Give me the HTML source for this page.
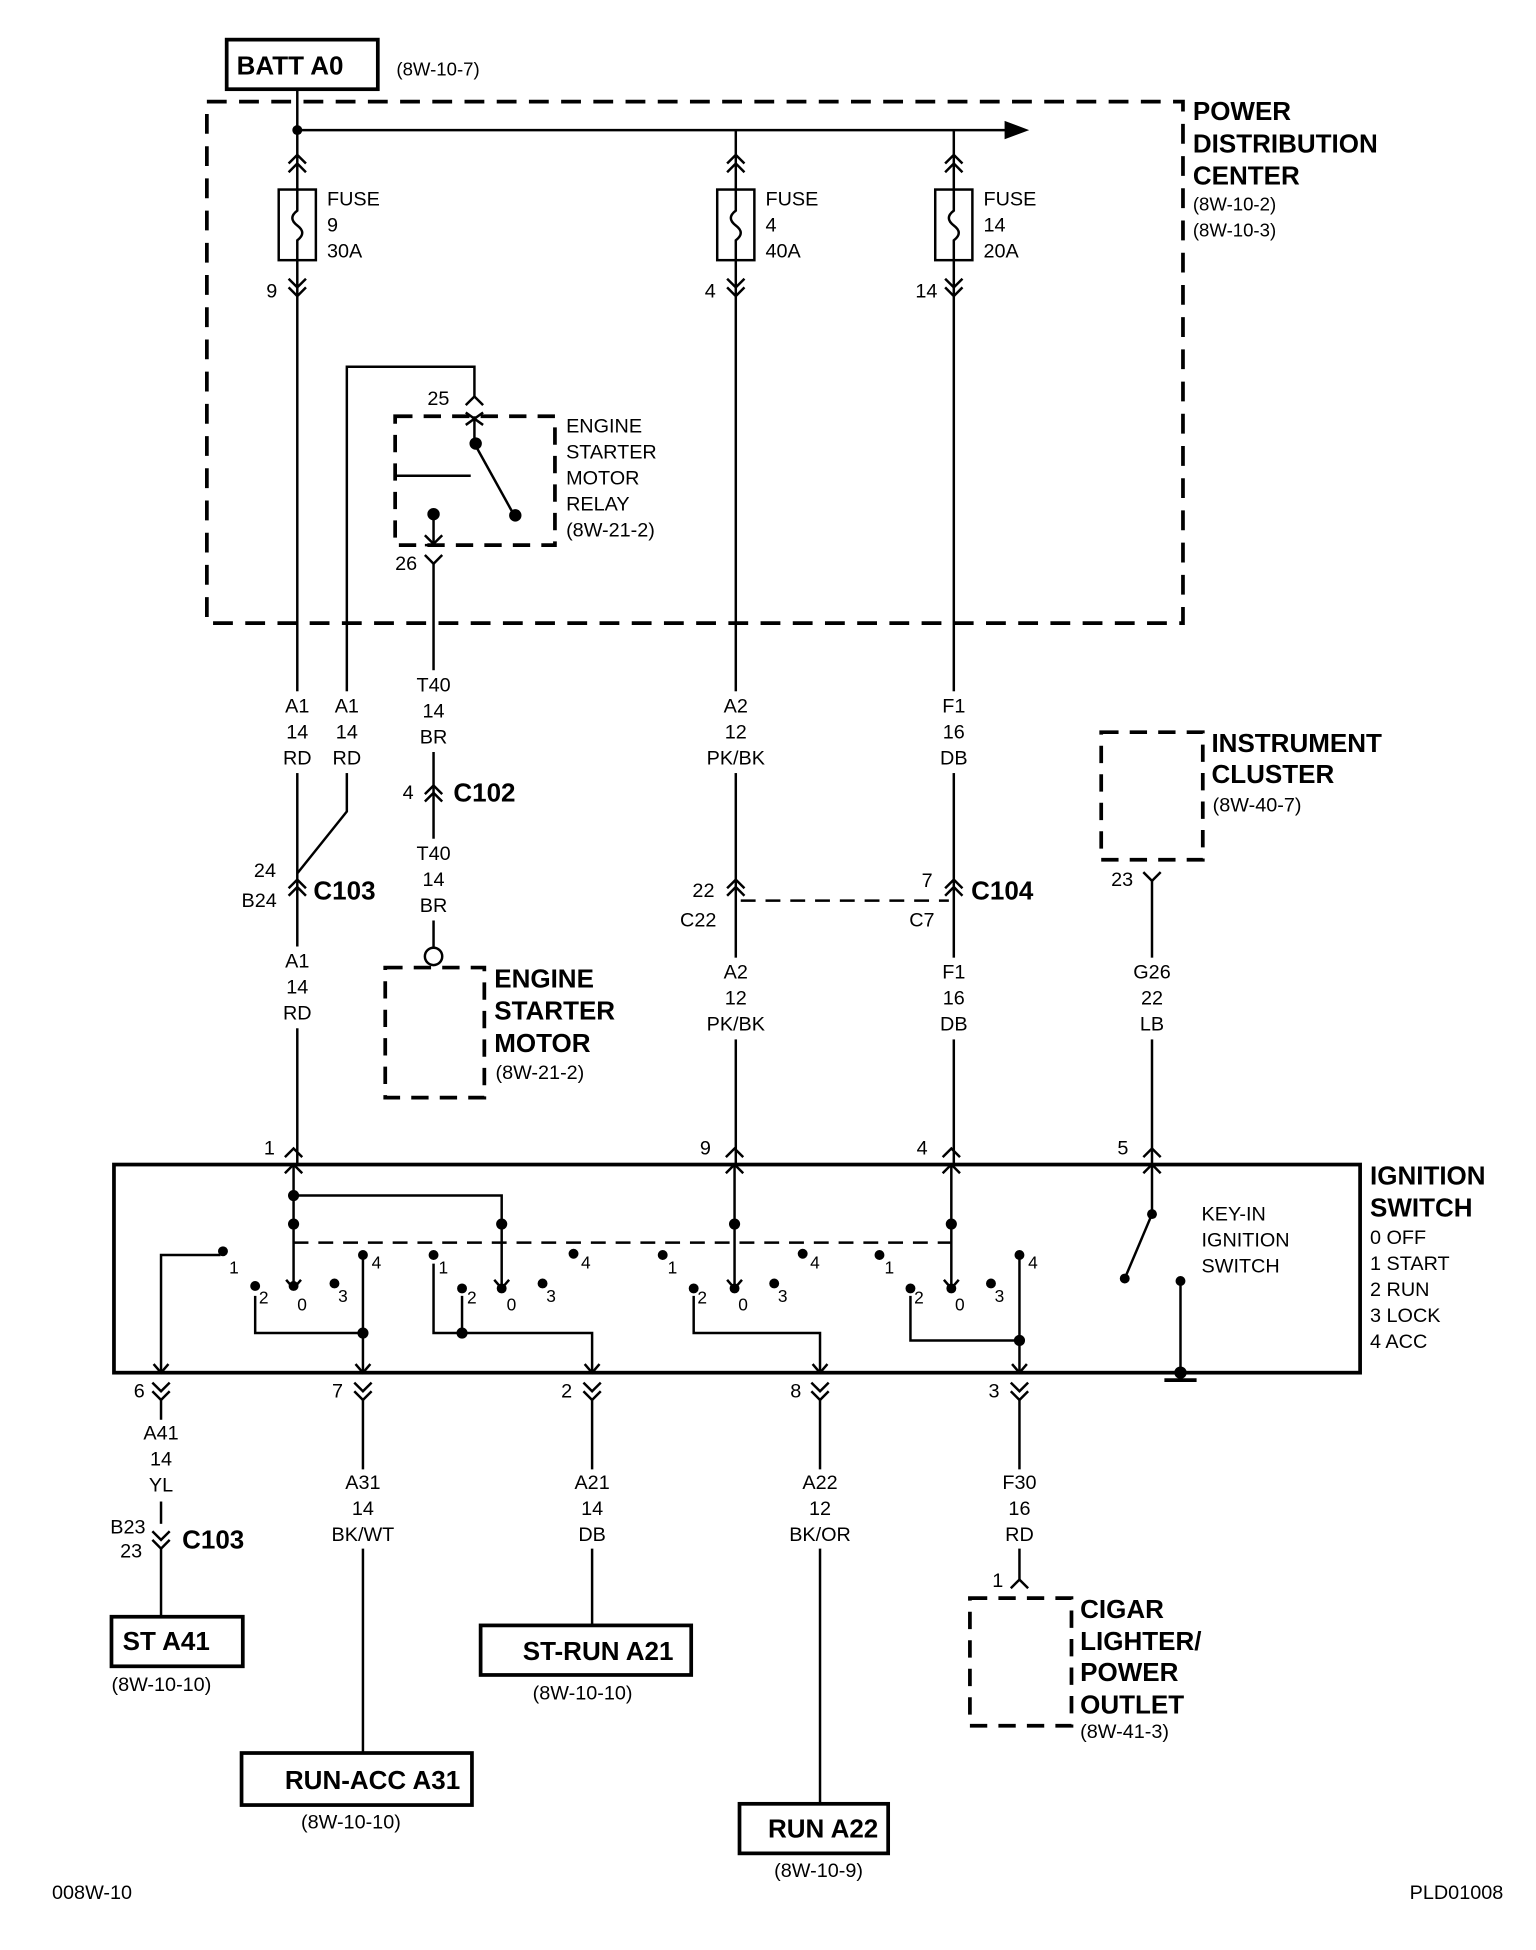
<!DOCTYPE html>
<html><head><meta charset="utf-8"><style>
html,body{margin:0;padding:0;background:#fff}
svg{display:block}
text{font-family:"Liberation Sans",sans-serif;fill:#000}
.s{font-size:15px}
.b{font-size:21px;font-weight:bold}
.m{font-size:16px}
</style></head><body>
<svg width="1536" height="1950" viewBox="0 0 1240 1574" preserveAspectRatio="none" xmlns="http://www.w3.org/2000/svg">
<g fill="none" stroke="#000" stroke-width="2">
<rect x="183" y="32" width="122" height="40" stroke-width="3"/>
<rect x="167" y="82" width="788" height="421" stroke-width="3" stroke-dasharray="16,10"/>
<line x1="240" y1="105" x2="812" y2="105"/>
<polygon points="812,99 828,105 812,111" fill="#000"/>
<line x1="240" y1="72" x2="240" y2="105"/>
<g id="f">
<line x1="240" y1="105" x2="240" y2="940"/>
<polyline points="233,132 240,125 247,132"/><polyline points="233,139 240,132 247,139"/>
<rect x="225" y="153" width="30" height="57" fill="#fff"/>
<path d="M240,153 v17 q-8,6 0,12 q8,6 0,12 v16"/>
<polyline points="233,225 240,232 247,225"/><polyline points="233,232 240,239 247,232"/>
</g>
<use href="#f" x="354"/>
<use href="#f" x="530"/>
<polyline points="383,320 383,296 280,296 280,655 240,705"/>
<polyline points="376,327 383,320 390,327"/>
<rect x="319" y="336" width="129" height="104" stroke-width="3" stroke-dasharray="14,9"/>
<polyline points="319,384 380,384"/>
<line x1="383" y1="336" x2="383" y2="358"/>
<line x1="376" y1="333" x2="390" y2="343"/><line x1="390" y1="333" x2="376" y2="343"/>
<line x1="383" y1="358" x2="414" y2="414"/>
<line x1="350" y1="415" x2="350" y2="440"/>
<polyline points="343,432 350,439 357,432"/>
<line x1="343" y1="440" x2="357" y2="440"/>
<polyline points="343,448 350,455 357,448"/>
<line x1="350" y1="455" x2="350" y2="765"/>
<polyline points="343,641 350,634 357,641"/><polyline points="343,647 350,640 357,647"/>
<circle cx="350" cy="772" r="7" fill="#fff"/>
<rect x="311" y="781" width="80" height="105" stroke-width="3" stroke-dasharray="14,9"/>
<polyline points="233,717 240,710 247,717"/><polyline points="233,723 240,716 247,723"/>
<polyline points="587,717 594,710 601,717"/><polyline points="587,723 594,716 601,723"/>
<polyline points="763,717 770,710 777,717"/><polyline points="763,723 770,716 777,723"/>
<line x1="598" y1="727" x2="766" y2="727" stroke-dasharray="12,8"/>
<rect x="889" y="591" width="82" height="103" stroke-width="3" stroke-dasharray="14,9"/>
<polyline points="923,704 930,711 937,704"/>
<line x1="930" y1="711" x2="930" y2="940"/>
</g>
<!-- label gaps -->
<g fill="#fff">
<rect x="226" y="558" width="28" height="66"/>
<rect x="268" y="558" width="26" height="66"/>
<rect x="336" y="541" width="28" height="66"/>
<rect x="336" y="677" width="28" height="66"/>
<rect x="226" y="764" width="28" height="66"/>
<rect x="568" y="558" width="52" height="66"/>
<rect x="568" y="773" width="52" height="66"/>
<rect x="756" y="558" width="28" height="66"/>
<rect x="756" y="773" width="28" height="66"/>
<rect x="912" y="773" width="36" height="66"/>
</g>
<g fill="none" stroke="#000" stroke-width="2">
<rect x="92" y="940" width="1006" height="168" stroke-width="3"/>
<polyline points="230,934 237,927 244,934"/><polyline points="230,947 237,940 244,947"/>
<polyline points="586,934 593,927 600,934"/><polyline points="586,947 593,940 600,947"/>
<polyline points="761,934 768,927 775,934"/><polyline points="761,947 768,940 775,947"/>
<polyline points="923,934 930,927 937,934"/><polyline points="923,947 930,940 937,947"/>
<line x1="237" y1="940" x2="237" y2="1040"/>
<polyline points="231,1033 237,1040 243,1033"/>
<polyline points="237,965 405,965 405,1040"/>
<polyline points="399,1033 405,1040 411,1033"/>
<line x1="593" y1="940" x2="593" y2="1040"/>
<polyline points="587,1033 593,1040 599,1033"/>
<line x1="768" y1="940" x2="768" y2="1040"/>
<polyline points="762,1033 768,1040 774,1033"/>
<line x1="237" y1="1003" x2="768" y2="1003" stroke-dasharray="12,8"/>
<polyline points="130,1108 130,1013 178,1013"/>
<polyline points="206,1046 206,1076 293,1076"/>
<line x1="293" y1="1013" x2="293" y2="1108"/>
<polyline points="350,1020 350,1076 478,1076 478,1108"/>
<line x1="373" y1="1046" x2="373" y2="1076"/>
<polyline points="560,1046 560,1076 662,1076 662,1108"/>
<polyline points="735,1046 735,1082 823,1082"/>
<line x1="823" y1="1013" x2="823" y2="1108"/>
<polyline points="124,1101 130,1108 136,1101"/><polyline points="287,1101 293,1108 299,1101"/>
<polyline points="472,1101 478,1108 484,1101"/><polyline points="656,1101 662,1108 668,1101"/>
<polyline points="817,1101 823,1108 829,1101"/>
<line x1="930" y1="940" x2="930" y2="980"/>
<line x1="930" y1="980" x2="908" y2="1032"/>
<line x1="953" y1="1034" x2="953" y2="1108"/>
<line x1="940" y1="1114" x2="966" y2="1114" stroke-width="3"/>
<polyline points="123,1116 130,1123 137,1116"/><polyline points="123,1123 130,1130 137,1123"/>
<polyline points="286,1116 293,1123 300,1116"/><polyline points="286,1123 293,1130 300,1123"/>
<polyline points="471,1116 478,1123 485,1116"/><polyline points="471,1123 478,1130 485,1123"/>
<polyline points="655,1116 662,1123 669,1116"/><polyline points="655,1123 662,1130 669,1123"/>
<polyline points="816,1116 823,1123 830,1116"/><polyline points="816,1123 823,1130 830,1123"/>
<line x1="130" y1="1130" x2="130" y2="1146"/><line x1="130" y1="1212" x2="130" y2="1230"/>
<polyline points="123,1236 130,1243 137,1236"/><polyline points="123,1243 130,1250 137,1243"/>
<line x1="130" y1="1250" x2="130" y2="1305"/>
<line x1="293" y1="1130" x2="293" y2="1186"/><line x1="293" y1="1250" x2="293" y2="1415"/>
<line x1="478" y1="1130" x2="478" y2="1186"/><line x1="478" y1="1250" x2="478" y2="1312"/>
<line x1="662" y1="1130" x2="662" y2="1186"/><line x1="662" y1="1250" x2="662" y2="1456"/>
<line x1="823" y1="1130" x2="823" y2="1186"/><line x1="823" y1="1250" x2="823" y2="1275"/>
<polyline points="816,1282 823,1275 830,1282"/>
<rect x="783" y="1290" width="82" height="103" stroke-width="3" stroke-dasharray="14,9"/>
<rect x="90" y="1305" width="106" height="40" stroke-width="3"/>
<rect x="388" y="1312" width="170" height="40" stroke-width="3"/>
<rect x="195" y="1415" width="186" height="42" stroke-width="3"/>
<rect x="597" y="1456" width="120" height="40" stroke-width="3"/>
</g>
<g fill="#000">
<circle cx="240" cy="105" r="4"/>
<circle cx="384" cy="358" r="5"/><circle cx="416" cy="416" r="5"/><circle cx="350" cy="415" r="5"/>
<circle cx="237" cy="965" r="4.5"/><circle cx="237" cy="988" r="4.5"/><circle cx="405" cy="988" r="4.5"/>
<circle cx="593" cy="988" r="4.5"/><circle cx="768" cy="988" r="4.5"/>
<circle cx="180" cy="1010" r="4"/><circle cx="206" cy="1038" r="4"/><circle cx="237" cy="1038" r="4"/><circle cx="270" cy="1036" r="4"/><circle cx="293" cy="1013" r="4"/>
<circle cx="350" cy="1013" r="4"/><circle cx="373" cy="1040" r="4"/><circle cx="405" cy="1040" r="4"/><circle cx="438" cy="1036" r="4"/><circle cx="463" cy="1012" r="4"/>
<circle cx="535" cy="1013" r="4"/><circle cx="560" cy="1040" r="4"/><circle cx="593" cy="1040" r="4"/><circle cx="625" cy="1036" r="4"/><circle cx="648" cy="1012" r="4"/>
<circle cx="710" cy="1013" r="4"/><circle cx="735" cy="1040" r="4"/><circle cx="768" cy="1040" r="4"/><circle cx="800" cy="1036" r="4"/><circle cx="823" cy="1013" r="4"/>
<circle cx="293" cy="1076" r="4.5"/><circle cx="373" cy="1076" r="4.5"/><circle cx="823" cy="1082" r="4.5"/>
<circle cx="930" cy="980" r="4"/><circle cx="908" cy="1032" r="4"/><circle cx="953" cy="1034" r="4"/><circle cx="953" cy="1108" r="5"/>
</g>
<text x="191" y="60" class="b">BATT A0</text>
<text x="320" y="61" class="s">(8W-10-7)</text>
<text x="963" y="97" class="b">POWER</text>
<text x="963" y="123" class="b">DISTRIBUTION</text>
<text x="963" y="149" class="b">CENTER</text>
<text x="963" y="170" class="s">(8W-10-2)</text>
<text x="963" y="191" class="s">(8W-10-3)</text>
<g class="m">
<text x="264" y="166">FUSE</text><text x="264" y="187">9</text><text x="264" y="208">30A</text>
<text x="618" y="166">FUSE</text><text x="618" y="187">4</text><text x="618" y="208">40A</text>
<text x="794" y="166">FUSE</text><text x="794" y="187">14</text><text x="794" y="208">20A</text>
<text x="215" y="240">9</text><text x="569" y="240">4</text><text x="739" y="240">14</text>
<text x="345" y="327">25</text><text x="319" y="460">26</text>
<text x="457" y="349">ENGINE</text><text x="457" y="370">STARTER</text><text x="457" y="391">MOTOR</text><text x="457" y="412">RELAY</text><text x="457" y="433">(8W-21-2)</text>
</g>
<g class="m" text-anchor="middle">
<text x="240" y="575">A1</text><text x="240" y="596">14</text><text x="240" y="617">RD</text>
<text x="280" y="575">A1</text><text x="280" y="596">14</text><text x="280" y="617">RD</text>
<text x="350" y="558">T40</text><text x="350" y="579">14</text><text x="350" y="600">BR</text>
<text x="350" y="694">T40</text><text x="350" y="715">14</text><text x="350" y="736">BR</text>
<text x="594" y="575">A2</text><text x="594" y="596">12</text><text x="594" y="617">PK/BK</text>
<text x="770" y="575">F1</text><text x="770" y="596">16</text><text x="770" y="617">DB</text>
<text x="240" y="781">A1</text><text x="240" y="802">14</text><text x="240" y="823">RD</text>
<text x="594" y="790">A2</text><text x="594" y="811">12</text><text x="594" y="832">PK/BK</text>
<text x="770" y="790">F1</text><text x="770" y="811">16</text><text x="770" y="832">DB</text>
<text x="930" y="790">G26</text><text x="930" y="811">22</text><text x="930" y="832">LB</text>
<text x="130" y="1162">A41</text><text x="130" y="1183">14</text><text x="130" y="1204">YL</text>
<text x="293" y="1202">A31</text><text x="293" y="1223">14</text><text x="293" y="1244">BK/WT</text>
<text x="478" y="1202">A21</text><text x="478" y="1223">14</text><text x="478" y="1244">DB</text>
<text x="662" y="1202">A22</text><text x="662" y="1223">12</text><text x="662" y="1244">BK/OR</text>
<text x="823" y="1202">F30</text><text x="823" y="1223">16</text><text x="823" y="1244">RD</text>
</g>
<g class="m">
<text x="325" y="645">4</text><text x="205" y="708">24</text><text x="195" y="732">B24</text>
<text x="559" y="724">22</text><text x="549" y="748">C22</text>
<text x="744" y="716">7</text><text x="734" y="748">C7</text>
<text x="897" y="715">23</text>
<text x="213" y="932">1</text><text x="565" y="932">9</text><text x="740" y="932">4</text><text x="902" y="932">5</text>
<text x="108" y="1128">6</text><text x="268" y="1128">7</text><text x="453" y="1128">2</text><text x="638" y="1128">8</text><text x="798" y="1128">3</text>
<text x="89" y="1238">B23</text><text x="97" y="1257">23</text>
<text x="801" y="1281">1</text>
<text x="400" y="871">(8W-21-2)</text>
<text x="979" y="655">(8W-40-7)</text>
<text x="872" y="1403">(8W-41-3)</text>
<text x="90" y="1365">(8W-10-10)</text>
<text x="430" y="1372">(8W-10-10)</text>
<text x="243" y="1476">(8W-10-10)</text>
<text x="625" y="1515">(8W-10-9)</text>
<text x="42" y="1533">008W-10</text>
<text x="1138" y="1533">PLD01008</text>
<text x="970" y="985">KEY-IN</text><text x="970" y="1006">IGNITION</text><text x="970" y="1027">SWITCH</text>
<text x="1106" y="1004">0 OFF</text><text x="1106" y="1025">1 START</text><text x="1106" y="1046">2 RUN</text><text x="1106" y="1067">3 LOCK</text><text x="1106" y="1088">4 ACC</text>
</g>
<g style="font-size:14px">
<text x="185" y="1028">1</text><text x="209" y="1052">2</text><text x="240" y="1058">0</text><text x="273" y="1051">3</text><text x="300" y="1024">4</text>
<text x="354" y="1028">1</text><text x="377" y="1052">2</text><text x="409" y="1058">0</text><text x="441" y="1051">3</text><text x="469" y="1024">4</text>
<text x="539" y="1028">1</text><text x="563" y="1052">2</text><text x="596" y="1058">0</text><text x="628" y="1051">3</text><text x="654" y="1024">4</text>
<text x="714" y="1028">1</text><text x="738" y="1052">2</text><text x="771" y="1058">0</text><text x="803" y="1051">3</text><text x="830" y="1024">4</text>
</g>
<g class="b">
<text x="366" y="647">C102</text>
<text x="253" y="726">C103</text>
<text x="784" y="726">C104</text>
<text x="147" y="1250">C103</text>
<text x="399" y="797">ENGINE</text><text x="399" y="823">STARTER</text><text x="399" y="849">MOTOR</text>
<text x="978" y="607">INSTRUMENT</text><text x="978" y="632">CLUSTER</text>
<text x="1106" y="956">IGNITION</text><text x="1106" y="982">SWITCH</text>
<text x="872" y="1306">CIGAR</text><text x="872" y="1332">LIGHTER/</text><text x="872" y="1357">POWER</text><text x="872" y="1383">OUTLET</text>
<text x="99" y="1332">ST A41</text>
<text x="422" y="1340">ST-RUN A21</text>
<text x="230" y="1444">RUN-ACC A31</text>
<text x="620" y="1483">RUN A22</text>
</g>
</svg>
</body></html>
